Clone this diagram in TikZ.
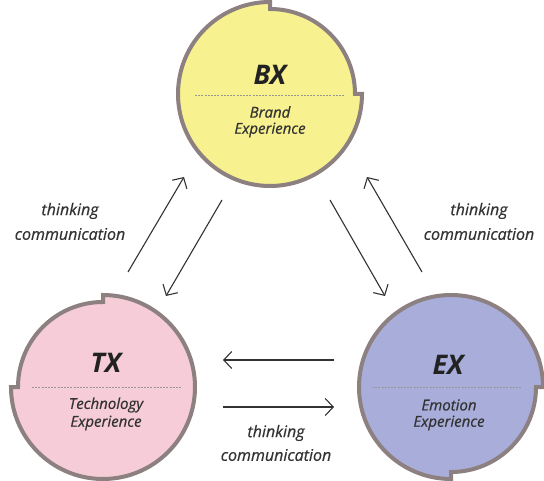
\documentclass[tikz,border=0pt]{standalone}
\usepackage{fontspec}
\setmainfont{Open Sans}
\newfontfamily\labfont[FakeBold=0.6]{Open Sans}
\usetikzlibrary{arrows.meta,calc}
\definecolor{bxfill}{RGB}{248,241,143}
\definecolor{txfill}{RGB}{245,204,216}
\definecolor{exfill}{RGB}{168,173,218}
\definecolor{outl}{RGB}{140,128,128}
\definecolor{divc}{RGB}{150,150,150}
\definecolor{titlec}{RGB}{34,34,34}
\definecolor{subc}{RGB}{51,51,51}
\definecolor{arrc}{RGB}{50,50,50}
\begin{document}
\begin{tikzpicture}[x=1pt,y=1pt,
  blob/.style={draw=outl, line width=4pt},
  divider/.style={draw=divc, line width=0.9pt, dash pattern=on 2pt off 1.2pt},
  title/.style={font=\itshape\bfseries\fontsize{27}{27}\selectfont, text=titlec, inner sep=0pt},
  sub/.style={font=\labfont\itshape\fontsize{15}{15}\selectfont, text=subc, inner sep=0pt},
  lab/.style={font=\labfont\itshape\fontsize{16}{16}\selectfont, text=subc, inner sep=0pt},
  conn/.style={draw=arrc, line width=1.1pt, -{Straight Barb[length=8pt,width=17pt]}}]
\useasboundingbox (0,0) rectangle (544,480);
% centers
\coordinate (bx) at (270,386);
\coordinate (tx) at (103,93);
\coordinate (ex) at (451,93);
% BX
\path[blob, fill=bxfill] ($(bx)+(90:92)$) arc[start angle=90,end angle=360,radius=92]
  -- ($(bx)+(0:85)$) arc[start angle=0,end angle=90,radius=85] -- cycle;
\draw[divider] (195,385) -- (345,385);
\node[title] (bxt) at (270,405) {BX};
\node[sub] (bxs1) at (270,368) {Brand};
\node[sub] (bxs2) at (270,350) {Experience};
% TX
\path[blob, fill=txfill] ($(tx)+(180:92)$) arc[start angle=180,end angle=450,radius=92]
  -- ($(tx)+(90:85)$) arc[start angle=90,end angle=180,radius=85] -- cycle;
\draw[divider] (32,93) -- (182,93);
\node[title] (txt) at (106,117) {TX};
\node[sub] (txs1) at (106,75) {Technology};
\node[sub] (txs2) at (106,57) {Experience};
% EX
\path[blob, fill=exfill] ($(ex)+(0:92)$) arc[start angle=0,end angle=270,radius=92]
  -- ($(ex)+(270:85)$) arc[start angle=270,end angle=360,radius=85] -- cycle;
\draw[divider] (372,93) -- (522,93);
\node[title] (ext) at (448,115) {EX};
\node[sub] (exs1) at (449,75) {Emotion};
\node[sub] (exs2) at (449,57) {Experience};
% arrow ends
\coordinate (a1s) at (128,208);
\coordinate (a1e) at (184,303);
\coordinate (a2s) at (222,280);
\coordinate (a2e) at (166,184);
\coordinate (a3s) at (330,280);
\coordinate (a3e) at (385,184);
\coordinate (a4s) at (422,208);
\coordinate (a4e) at (367,303);
\coordinate (a5s) at (334,120);
\coordinate (a5e) at (223,120);
\coordinate (a6s) at (223,73);
\coordinate (a6e) at (334,73);
\draw[conn] (a1s) -- (a1e);
\draw[conn] (a2s) -- (a2e);
\draw[conn] (a3s) -- (a3e);
\draw[conn] (a4s) -- (a4e);
\draw[conn] (a5s) -- (a5e);
\draw[conn] (a6s) -- (a6e);
% labels
\node[lab] (l1a) at (70,269) {thinking};
\node[lab] (l1b) at (70,246) {communication};
\node[lab] (l2a) at (479,269) {thinking};
\node[lab] (l2b) at (479,246) {communication};
\node[lab] (l3a) at (276,47) {thinking};
\node[lab] (l3b) at (276,25) {communication};
\end{tikzpicture}
\end{document}
